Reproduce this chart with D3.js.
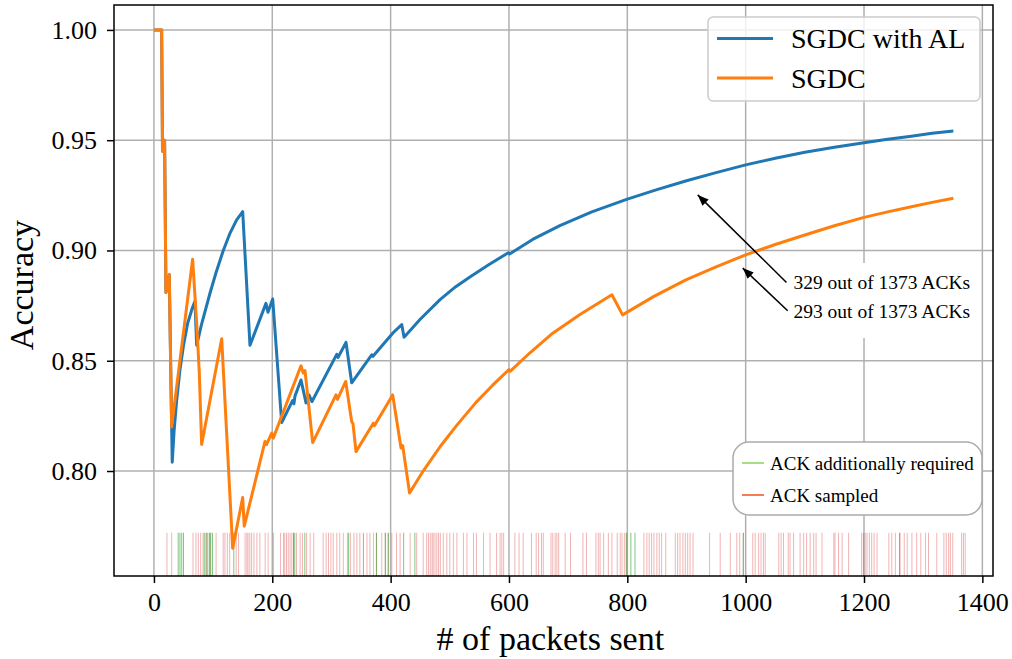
<html>
<head>
<script src="https://d3js.org/d3.v7.min.js"></script>
<style type="text/css">
body { margin: 0; background-color: #ffffff; }
text { font-family: "Liberation Serif", "Times New Roman", serif; fill: #000; }
</style>
</head>
<body>
<script>
// accuracy over packets sent
let alX = [0, 13, 14.5, 18, 20.3, 25.9, 30.9, 34, 38.4, 44, 50, 57, 65, 69.3, 72.2, 80, 94.7, 105, 117.2, 128, 139.8, 150,
    162.3, 189.3, 192.7, 200.7, 215.9, 234.5, 236.5, 238.4, 248.5, 257, 262, 267.1, 308.9, 311, 324.6,
    334.2, 368, 370.2, 404.6, 418.8, 422.7, 450, 483.5, 510, 534, 565, 599, 601, 640, 686, 740, 800, 850, 900, 950,
    1000, 1050, 1100, 1150, 1200, 1240, 1280, 1315, 1351];
let alY = [1.0, 1.0, 0.945, 0.950, 0.881, 0.889, 0.804, 0.818, 0.832, 0.846, 0.857, 0.867, 0.874, 0.877, 0.857, 0.866, 0.8806, 0.890, 0.900, 0.9075, 0.9139, 0.9176,
    0.857, 0.876, 0.872, 0.878, 0.822, 0.832, 0.8305, 0.834, 0.8413, 0.8309, 0.8345, 0.8315, 0.8529, 0.8515, 0.8583,
    0.840, 0.8527, 0.852, 0.8628, 0.8664, 0.8607, 0.8688, 0.8777, 0.8836, 0.888, 0.8934, 0.8990, 0.8984, 0.9050, 0.9113, 0.9175, 0.9233, 0.9276, 0.9316, 0.9353,
    0.9388, 0.9418, 0.9445, 0.9468, 0.9488, 0.9504, 0.9518, 0.9531, 0.9542];

let sgdcX = [0, 13, 14.5, 18, 20.3, 25.9, 29.9, 65.4, 72.2, 76.6, 80.6, 114.5, 133.1, 150, 152.6, 187.7, 190.2,
    199, 201.7, 248.5, 252.4, 255.3, 268.3, 307.7, 310.2, 324.1, 334.2, 336.4, 341.5, 370.8, 372.5, 403.5,
    417.6, 420.4, 432, 455, 483.5, 512, 544, 572, 600, 602, 635, 674, 720, 774, 792, 845, 899, 950, 1000, 1050,
    1100, 1150, 1200, 1240, 1280, 1315, 1351];
let sgdcY = [1.0, 1.0, 0.945, 0.950, 0.881, 0.889, 0.820, 0.896, 0.867, 0.845, 0.812, 0.860, 0.765, 0.788, 0.775, 0.8134, 0.812,
    0.8172, 0.8149, 0.8477, 0.8444, 0.8455, 0.8129, 0.8345, 0.8325, 0.8406, 0.8224, 0.8215, 0.8088, 0.8217, 0.8205, 0.8345,
    0.8104, 0.8115, 0.790, 0.800, 0.811, 0.8208, 0.831, 0.8388, 0.846, 0.8452, 0.8535, 0.8625, 0.8710, 0.8799, 0.8708, 0.8792, 0.8867, 0.8926, 0.898, 0.9027,
    0.907, 0.9112, 0.915, 0.9175, 0.9198, 0.9218, 0.9237];

// rug positions (packet index)
let ackSampled = [22, 30, 66, 71, 75, 79, 83, 89, 95, 105, 117, 120, 124, 128, 139, 143, 154, 157, 159, 162, 165, 169,
    174, 179, 188, 193, 202, 214, 219, 221, 224, 227, 230, 233, 236, 241, 247, 251, 258, 264, 270, 286, 291, 295, 299,
    303, 309, 314, 320, 327, 332, 338, 343, 348, 360, 365, 371, 376, 385, 391, 396, 402, 410, 416, 433, 444, 455, 461,
    464, 467, 470, 472, 475, 478, 481, 484, 489, 495, 500, 506, 512, 523, 529, 540, 545, 557, 568, 579, 585, 588, 591,
    610, 617, 624, 638, 646, 650, 655, 658, 671, 674, 678, 681, 684, 695, 704, 725, 731, 747, 751, 754, 760, 768, 774,
    783, 788, 791, 795, 798, 828, 833, 837, 841, 845, 850, 854, 858, 865, 881, 885, 889, 894, 898, 902, 906, 911, 939,
    957, 974, 985, 990, 996, 1012, 1016, 1022, 1026, 1030, 1033, 1056, 1060, 1064, 1072, 1075, 1081, 1092, 1098, 1103,
    1109, 1115, 1119, 1129, 1149, 1151, 1157, 1163, 1174, 1196, 1199, 1202, 1205, 1209, 1213, 1217, 1222, 1242, 1247,
    1253, 1261, 1268, 1273, 1281, 1289, 1296, 1304, 1309, 1323, 1335, 1339, 1343, 1346, 1350, 1365, 1368, 1371];
let ackRequired = [41, 44, 47, 50, 85, 88, 91, 94, 96, 99, 135, 236, 238, 255, 329, 354, 376, 391, 396, 422, 441,
    799, 806, 813, 996, 1260];

let xTicks = [0, 200, 400, 600, 800, 1000, 1200, 1400];
let yTicks = [0.80, 0.85, 0.90, 0.95, 1.00];
let seriesNames = ["SGDC with AL", "SGDC"];
let rugNames = ["ACK additionally required", "ACK sampled"];
let notes = ["329 out of 1373 ACKs", "293 out of 1373 ACKs"];

let width = 1012, height = 659;
let pL = 114, pR = 993, pT = 5, pB = 576;
let blue = "#1f77b4", orange = "#ff7f0e";

let svg = d3.select("body").append("svg").attr("width", width).attr("height", height);

let x = d3.scaleLinear().domain([-67.5, 1418]).range([pL, pR]);
let y = d3.scaleLinear().domain([0.7524, 1.0113]).range([pB, pT]);

let defs = svg.append("defs");
defs.append("clipPath").attr("id", "plot")
    .append("rect").attr("x", pL).attr("y", pT).attr("width", pR - pL).attr("height", pB - pT);

// grid
let grid = svg.append("g");
grid.selectAll("line.gx").data(xTicks).enter().append("line")
    .attr("x1", d => x(d)).attr("x2", d => x(d)).attr("y1", pT).attr("y2", pB)
    .attr("stroke", "#b0b0b0").attr("stroke-width", 1.5);
grid.selectAll("line.gy").data(yTicks).enter().append("line")
    .attr("x1", pL).attr("x2", pR).attr("y1", d => y(d)).attr("y2", d => y(d))
    .attr("stroke", "#b0b0b0").attr("stroke-width", 1.5);

let plot = svg.append("g").attr("clip-path", "url(#plot)");

// rugs
let rugTop = 0.772;
plot.selectAll("line.red").data(ackSampled).enter().append("line")
    .attr("x1", d => x(d)).attr("x2", d => x(d)).attr("y1", y(rugTop)).attr("y2", pB)
    .attr("stroke", "#d62728").attr("stroke-opacity", 0.35).attr("stroke-width", 1);
plot.selectAll("line.green").data(ackRequired).enter().append("line")
    .attr("x1", d => x(d)).attr("x2", d => x(d)).attr("y1", y(rugTop)).attr("y2", pB)
    .attr("stroke", "#2ca02c").attr("stroke-opacity", 0.6).attr("stroke-width", 1);

// annotation box behind the text
let noteX = 1069;
svg.append("rect")
    .attr("x", x(noteX) - 2).attr("y", y(0.8943)).attr("width", 190).attr("height", 75)
    .attr("rx", 4).attr("fill", "#fff");

let line = d3.line().x(d => x(d[0])).y(d => y(d[1]));
plot.append("path").datum(d3.zip(alX, alY))
    .attr("d", line).attr("fill", "none").attr("stroke", blue)
    .attr("stroke-width", 3).attr("stroke-linejoin", "round");
plot.append("path").datum(d3.zip(sgdcX, sgdcY))
    .attr("d", line).attr("fill", "none").attr("stroke", orange)
    .attr("stroke-width", 3).attr("stroke-linejoin", "round");

// axes
let xAxis = svg.append("g").attr("transform", "translate(0," + pB + ")")
    .call(d3.axisBottom(x).tickValues(xTicks).tickSize(7).tickPadding(10).tickFormat(d3.format("d")));
let yAxis = svg.append("g").attr("transform", "translate(" + pL + ",0)")
    .call(d3.axisLeft(y).tickValues(yTicks).tickSize(7).tickPadding(10).tickFormat(d3.format(".2f")));
[xAxis, yAxis].forEach(a => {
    a.select(".domain").remove();
    a.selectAll("line").attr("stroke", "#000").attr("stroke-width", 1.5);
    a.selectAll("text").attr("font-size", "26px").attr("font-family", "Liberation Serif");
});

svg.append("rect").attr("x", pL).attr("y", pT).attr("width", pR - pL).attr("height", pB - pT)
    .attr("fill", "none").attr("stroke", "#000").attr("stroke-width", 1.5);

svg.append("text").attr("x", x(670)).attr("y", 650).attr("text-anchor", "middle")
    .attr("font-size", "34px").text("# of packets sent");
svg.append("text").attr("transform", "translate(33,285) rotate(-90)").attr("text-anchor", "middle")
    .attr("font-size", "34px").text("Accuracy");

// arrows
defs.append("marker").attr("id", "head")
    .attr("viewBox", "0 0 10 10").attr("refX", 10).attr("refY", 5)
    .attr("markerWidth", 11).attr("markerHeight", 11).attr("markerUnits", "userSpaceOnUse")
    .attr("orient", "auto")
    .append("path").attr("d", "M0,1 L10,5 L0,9 Z").attr("fill", "#000");
let arrows = [[noteX, 0.8855, 919, 0.9252], [noteX + 2, 0.8727, 995, 0.892]];
svg.selectAll("line.arrow").data(arrows).enter().append("line")
    .attr("x1", d => x(d[0])).attr("y1", d => y(d[1]))
    .attr("x2", d => x(d[2])).attr("y2", d => y(d[3]))
    .attr("stroke", "#000").attr("stroke-width", 1.5).attr("marker-end", "url(#head)");
svg.selectAll("text.note").data(notes).enter().append("text")
    .attr("x", x(noteX) + 7).attr("y", (d, i) => y(0.8855 - i * 0.0128) + 7)
    .attr("font-size", "19.5px").text(d => d);

// legend for the lines
let lg = svg.append("g");
lg.append("rect").attr("x", 708).attr("y", 17).attr("width", 272).attr("height", 84).attr("rx", 5)
    .attr("fill", "#fff").attr("fill-opacity", 0.8).attr("stroke", "#cccccc").attr("stroke-width", 1.5);
lg.selectAll("line").data(seriesNames).enter().append("line")
    .attr("x1", 717).attr("x2", 773).attr("y1", (d, i) => 38.5 + i * 39.5).attr("y2", (d, i) => 38.5 + i * 39.5)
    .attr("stroke", (d, i) => [blue, orange][i]).attr("stroke-width", 3);
lg.selectAll("text").data(seriesNames).enter().append("text")
    .attr("x", 791).attr("y", (d, i) => 38.5 + i * 39.5 + 9.5)
    .attr("font-size", "28px").text(d => d);

// legend for the rugs
let lr = svg.append("g");
lr.append("rect").attr("x", 733).attr("y", 442).attr("width", 249).attr("height", 73).attr("rx", 16)
    .attr("fill", "#fff").attr("stroke", "#ababab").attr("stroke-width", 1.5);
lr.selectAll("line").data(rugNames).enter().append("line")
    .attr("x1", 742).attr("x2", 764).attr("y1", (d, i) => 463 + i * 32).attr("y2", (d, i) => 463 + i * 32)
    .attr("stroke", (d, i) => ["#86d45c", "#f4511e"][i]).attr("stroke-width", 1.5);
lr.selectAll("text").data(rugNames).enter().append("text")
    .attr("x", 770).attr("y", (d, i) => 463 + i * 32 + 6.5)
    .attr("font-size", "19px").text(d => d);
</script>
</body>
</html>
